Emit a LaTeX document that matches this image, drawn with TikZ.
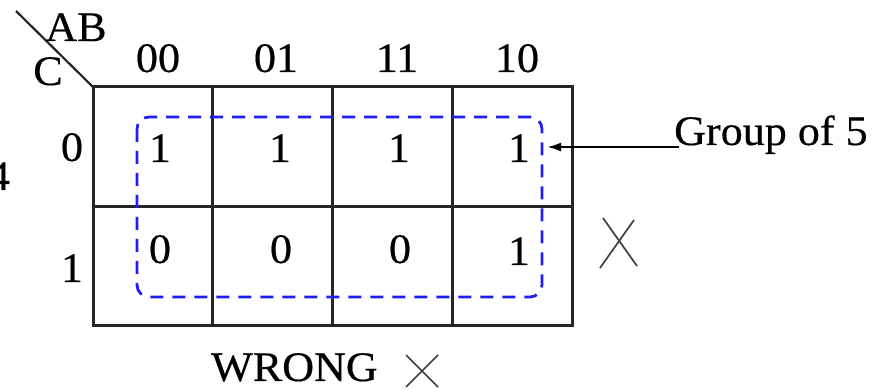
\documentclass[tikz,border=0pt]{standalone}
\usepackage{fontspec}
\setmainfont[FakeStretch=1.05,FakeBold=0.4]{Liberation Serif}
\usetikzlibrary{arrows.meta}
\definecolor{grpblue}{RGB}{30,30,245}
\begin{document}
\begin{tikzpicture}[x=1pt,y=-1pt,
  gridline/.style={line width=3pt,black!85},
  grpbox/.style={grpblue,line width=2.8pt,dash pattern=on 13pt off 9pt,rounded corners=12pt},
  txt/.style={inner sep=0pt,anchor=base,font=\fontsize{42}{50}\selectfont},
  xmark/.style={line width=1.7pt,black!75},
  ptr/.style={line width=2.4pt,-{Latex[length=14pt,width=9pt]}}]
\useasboundingbox (0,0) rectangle (887,390);
% grid
\coordinate (g00) at (93,87);
\coordinate (g11) at (572,326);
\draw[gridline] (g00) rectangle (g11);
\draw[gridline] (93,207) -- (572,207);
\draw[gridline] (212,87) -- (212,326);
\draw[gridline] (332,87) -- (332,326);
\draw[gridline] (452,87) -- (452,326);
% corner diagonal
\coordinate (dgs) at (16,11);
\draw[line width=2.2pt,black!85] (dgs) -- (g00);
\node[txt] (ab) at (76,41) {AB};
\node[txt] (c) at (48,85) {C};
% column labels
\node[txt] (c00) at (158,72) {00};
\node[txt] (c01) at (276,72) {01};
\node[txt] (c11) at (397,72) {11};
\node[txt] (c10) at (517,72) {10};
% row labels
\node[txt] (r0) at (72,161) {0};
\node[txt] (r1) at (72,282) {1};
\node[txt] (four) at (-1,190) {4};
% cells
\node[txt] (m0) at (160,162) {1};
\node[txt] (m1) at (280,162) {1};
\node[txt] (m3) at (399,162) {1};
\node[txt] (m2) at (519,162) {1};
\node[txt] (m4) at (160,263) {0};
\node[txt] (m5) at (281,263) {0};
\node[txt] (m7) at (400,263) {0};
\node[txt] (m6) at (519,265) {1};
% group box
\draw[grpbox] (137,117) rectangle (542,297);
% pointer
\node[txt,anchor=base west] (grp) at (674,145) {Group of 5};
\coordinate (ps) at (679,147);
\coordinate (pe) at (547,147);
\draw[ptr] (ps) -- (pe);
% right X
\coordinate (xa1) at (603,218); \coordinate (xa2) at (637,266);
\coordinate (xb1) at (634,220); \coordinate (xb2) at (600,268);
\draw[xmark] (xa1) -- (xa2);
\draw[xmark] (xb1) -- (xb2);
% WRONG x
\node[txt,anchor=base west] (wrong) at (211,381) {WRONG};
\coordinate (ya1) at (406,355); \coordinate (ya2) at (438,387);
\coordinate (yb1) at (438,355); \coordinate (yb2) at (406,387);
\draw[xmark] (ya1) -- (ya2);
\draw[xmark] (yb1) -- (yb2);
\end{tikzpicture}
\end{document}
